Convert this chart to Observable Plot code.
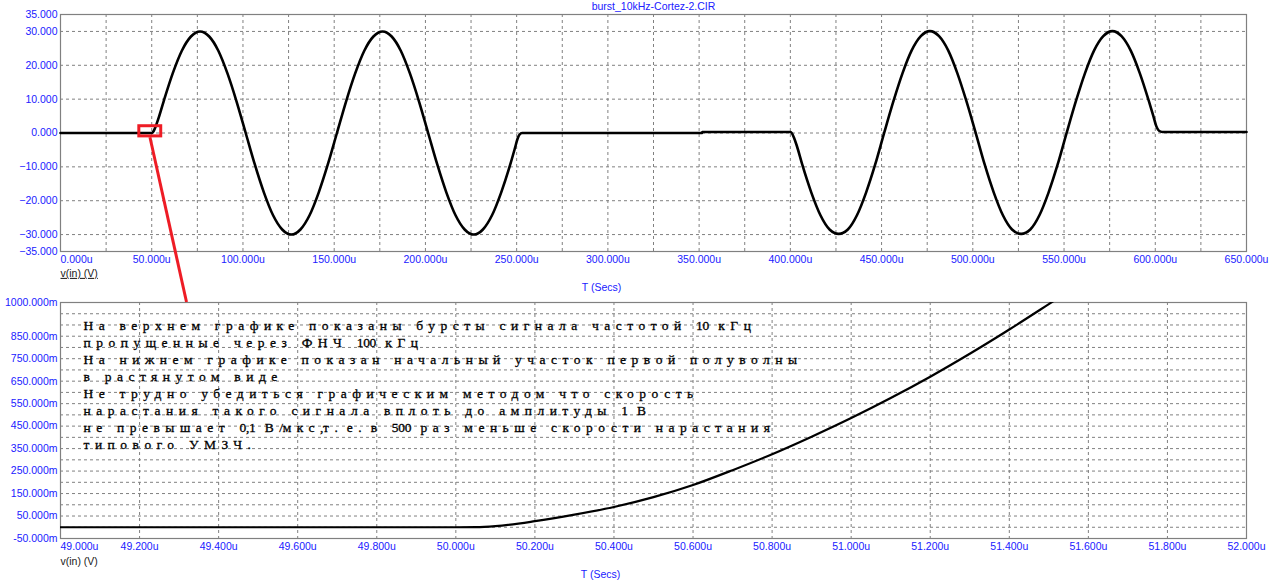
<!DOCTYPE html>
<html><head><meta charset="utf-8">
<script src="https://cdn.jsdelivr.net/npm/d3@7"></script>
<script src="https://cdn.jsdelivr.net/npm/@observablehq/plot@0.6"></script>
<style>
body{margin:0;background:#fff;}
#wrap{position:relative;width:1276px;height:586px;overflow:hidden;background:#fff;}
#wrap svg{position:absolute;left:0;}
</style></head><body><div id="wrap"></div>
<script>
// ---------- texts ----------
const title = "burst_10kHz-Cortez-2.CIR";
const xLabel = "T (Secs)";
const yLabel = "v(in) (V)";
const noteLines = [
  "На верхнем графике показаны бурсты сигнала частотой 10 кГц",
  "пропущенные через ФНЧ 100 кГц",
  "На нижнем графике показан начальный участок первой полуволны",
  "в растянутом виде",
  "Не трудно убедиться графическим методом что скорость",
  "нарастания такого сигнала вплоть до амплитуды 1 В",
  "не превышает 0,1 В/мкс,т. е. в 500 раз меньше скорости нарастания",
  "типового УМЗЧ."
];

// ---------- top chart: whole burst signal (time in µs, volts) ----------
const topTime = [
  0, 50, 51, 52, 53.5,
  56.5, 61.5, 66.5, 71.5, 76.5, 81.5, 86.5, 91.5, 96.5, 101.5,
  106.5, 111.5, 116.5, 121.5, 126.5, 131.5, 136.5, 141.5, 146.5, 151.5,
  156.5, 161.5, 166.5, 171.5, 176.5, 181.5, 186.5, 191.5, 196.5, 201.5,
  206.5, 211.5, 216.5, 221.5, 226.5, 231.5, 236.5, 241.5, 246.5,
  249, 250.5, 251.5, 253, 351.6, 351.7, 400, 401, 402, 403.5,
  406.5, 411.5, 416.5, 421.5, 426.5, 431.5, 436.5, 441.5, 446.5, 451.5,
  456.5, 461.5, 466.5, 471.5, 476.5, 481.5, 486.5, 491.5, 496.5, 501.5,
  506.5, 511.5, 516.5, 521.5, 526.5, 531.5, 536.5, 541.5, 546.5, 551.5,
  556.5, 561.5, 566.5, 571.5, 576.5, 581.5, 586.5, 591.5, 596.5,
  599, 600.5, 601.5, 603, 604, 650
];
const topValue = [
  0, 0, 0.5, 1.7, 4.0,
  9.3, 17.6, 24.3, 28.5, 30.0, 28.5, 24.3, 17.6, 9.3, 0.0,
  -9.3, -17.6, -24.3, -28.5, -30.0, -28.5, -24.3, -17.6, -9.3, 0.0,
  9.3, 17.6, 24.3, 28.5, 30.0, 28.5, 24.3, 17.6, 9.3, 0.0,
  -9.3, -17.6, -24.3, -28.5, -30.0, -28.5, -24.3, -17.6, -9.3,
  -4.6, -1.7, -0.5, 0, 0, 0.3, 0.3, -0.2, -1.4, -3.7,
  -9.3, -17.6, -24.3, -28.5, -29.8, -28.5, -24.3, -17.6, -9.3, 0.2,
  9.4, 17.7, 24.4, 28.6, 30.1, 28.6, 24.4, 17.7, 9.4, 0.2,
  -9.3, -17.6, -24.3, -28.5, -29.8, -28.5, -24.3, -17.6, -9.3, 0.2,
  9.4, 17.7, 24.4, 28.6, 30.1, 28.6, 24.4, 17.7, 9.4,
  4.9, 2.1, 1.0, 0.4, 0.3, 0.3
];
const topXTicks = [0, 50, 100, 150, 200, 250, 300, 350, 400, 450, 500, 550, 600, 650];
const topYTicks = [35, 30, 20, 10, 0, -10, -20, -30, -35];

// ---------- bottom chart: start of first half-wave (time in µs, millivolts) ----------
const botTime = [49.0, 50.0, 50.05, 50.1, 50.2, 50.3, 50.4, 50.5, 50.6, 50.7, 50.8, 50.9, 51.0, 51.1, 51.2, 51.3, 51.4, 51.5, 51.55];
const botValue = [0, 0, 0.5, 5, 27, 56, 90, 134, 188, 254, 325, 403, 486, 575, 670, 772, 880, 993, 1050];
const botXTicks = [49.0, 49.2, 49.4, 49.6, 49.8, 50.0, 50.2, 50.4, 50.6, 50.8, 51.0, 51.2, 51.4, 51.6, 51.8, 52.0];
const botYTicks = [1000, 850, 750, 650, 550, 450, 350, 250, 150, 50, -50];

// ---------- zoom call-out (top box, link to bottom chart) ----------
const zoomBoxTime = [43.2, 55.2];
const zoomBoxValue = [-1.0, 2.0];
const calloutTime = [49.3, 49.32];     // start (top chart), end (bottom chart)
const calloutValue = [-1.4, 1000];

// ---------- styles ----------
const BLUE = "#2020ff";
const GRID = "#808080";
const RED = "#ee1c25";
const FONT = "'Liberation Sans', Arial, sans-serif";
const W = 1276, TOP_H = 294, BOT_H = 292;

const fmtU = d => d.toFixed(3) + "u";
const fmtM = d => d.toFixed(3) + "m";
const gridOpts = {stroke: GRID, strokeOpacity: 1, strokeWidth: 1, strokeDasharray: "3,3"};
const axisTxt = {tickSize: 0, fill: BLUE, fontSize: 10.5, label: null};

const topData = topTime.map((t, i) => ({t, v: topValue[i]}));
const botData = botTime.map((t, i) => ({t, v: botValue[i]}));

const topPlot = Plot.plot({
  width: W, height: TOP_H,
  marginLeft: 60, marginRight: 30, marginTop: 14, marginBottom: 43,
  style: {background: "transparent", fontFamily: FONT, fontSize: "10.5px", overflow: "visible"},
  x: {domain: [0, 650]},
  y: {domain: [-35, 35]},
  marks: [
    Plot.gridX(d3.range(25, 650, 25), gridOpts),
    Plot.gridY(d3.range(-30, 31, 10), gridOpts),
    Plot.frame({stroke: GRID, strokeWidth: 1.2}),
    Plot.line(topData, {x: "t", y: "v", stroke: "#000", strokeWidth: 2.6, curve: "monotone-x"}),
    Plot.rect([0], {x1: () => zoomBoxTime[0], x2: () => zoomBoxTime[1], y1: () => zoomBoxValue[0], y2: () => zoomBoxValue[1], fill: "none", stroke: RED, strokeWidth: 3}),
    Plot.axisX([topXTicks[0]], {...axisTxt, tickPadding: 4, tickFormat: fmtU, textAnchor: "start"}),
    Plot.axisX(topXTicks.slice(1), {...axisTxt, tickPadding: 4, tickFormat: fmtU, textAnchor: "middle"}),
    Plot.axisY(topYTicks, {...axisTxt, tickPadding: 3, tickFormat: d3.format(".3f")}),
    Plot.text([title], {text: d => d, frameAnchor: "top", dy: -7.5, lineAnchor: "middle", fill: BLUE, fontSize: 10.5}),
    Plot.text([xLabel], {text: d => d, frameAnchor: "bottom-left", dx: 541, dy: 36, lineAnchor: "middle", textAnchor: "middle", fill: BLUE, fontSize: 10.5}),
    Plot.text([yLabel], {text: d => d, frameAnchor: "bottom-left", dy: 22, lineAnchor: "middle", textAnchor: "start", fill: "#202020", fontSize: 10.5})
  ]
});

const botPlot = Plot.plot({
  width: W, height: BOT_H,
  marginLeft: 60, marginRight: 30, marginTop: 8, marginBottom: 48,
  style: {background: "transparent", fontFamily: FONT, fontSize: "10.5px", overflow: "visible"},
  x: {domain: [49, 52]},
  y: {domain: [-50, 1000]},
  marks: [
    Plot.gridX(botXTicks.slice(1, -1), gridOpts),
    Plot.gridY(d3.range(0, 1000, 50), gridOpts),
    Plot.frame({stroke: GRID, strokeWidth: 1.2}),
    Plot.line(botData, {x: "t", y: "v", stroke: "#000", strokeWidth: 2.2, curve: "monotone-x", clip: true}),
    Plot.axisX([botXTicks[0]], {...axisTxt, tickPadding: 4, tickFormat: fmtU, textAnchor: "start"}),
    Plot.axisX(botXTicks.slice(1), {...axisTxt, tickPadding: 4, tickFormat: fmtU, textAnchor: "middle"}),
    Plot.axisY(botYTicks, {...axisTxt, tickPadding: 3, tickFormat: fmtM}),
    Plot.text([noteLines.join("\n")], {text: d => d, frameAnchor: "top-left", dx: 23, dy: 15.5, lineAnchor: "top", lineHeight: 17 / 13.5, fontFamily: "'Liberation Serif', 'DejaVu Serif', serif", fontSize: 13.5, fill: "#000", stroke: "#000", strokeWidth: 0.3}),
    Plot.text([xLabel], {text: d => d, frameAnchor: "bottom-left", dx: 540, dy: 36, lineAnchor: "middle", textAnchor: "middle", fill: BLUE, fontSize: 10.5}),
    Plot.text([yLabel], {text: d => d, frameAnchor: "bottom-left", dy: 23, lineAnchor: "middle", textAnchor: "start", fill: "#202020", fontSize: 10.5})
  ]
});

const wrap = document.getElementById("wrap");
topPlot.style.top = "0px";
botPlot.style.top = TOP_H + "px";
wrap.appendChild(topPlot);
wrap.appendChild(botPlot);

// underline the top y-label
d3.select(topPlot).selectAll("text").filter(function() { return this.textContent === yLabel; })
  .attr("text-decoration", "underline");

// wide letter spacing for Cyrillic runs of the note text, narrow for digits/punctuation
const noteText = d3.select(botPlot).selectAll("text").filter(function() { return this.textContent.startsWith("На верхнем"); });
const lineSpans = noteText.selectAll("tspan").nodes();
for (const span of lineSpans) {
  const s = span.textContent;
  span.textContent = "";
  for (const run of s.match(/[\u0400-\u04FF]+| +|[^\u0400-\u04FF ]+/g) || []) {
    const ls = /^[\u0400-\u04FF]/.test(run) ? 5.5 : run[0] === " " ? 5.9 : -0.3;
    d3.select(span).append("tspan").attr("letter-spacing", ls + "px").text(run);
  }
}

// red call-out link from the top box to the bottom chart
const x1 = topPlot.scale("x").apply(calloutTime[0]);
const y1 = topPlot.scale("y").apply(calloutValue[0]);
const x2 = botPlot.scale("x").apply(calloutTime[1]);
const y2 = TOP_H + botPlot.scale("y").apply(calloutValue[1]);
const ov = d3.select(wrap).append("svg").attr("width", W).attr("height", 586)
  .style("top", "0px").style("pointer-events", "none");
ov.append("line").attr("x1", x1).attr("y1", y1).attr("x2", x2).attr("y2", y2)
  .attr("stroke", RED).attr("stroke-width", 3);
</script></body></html>
